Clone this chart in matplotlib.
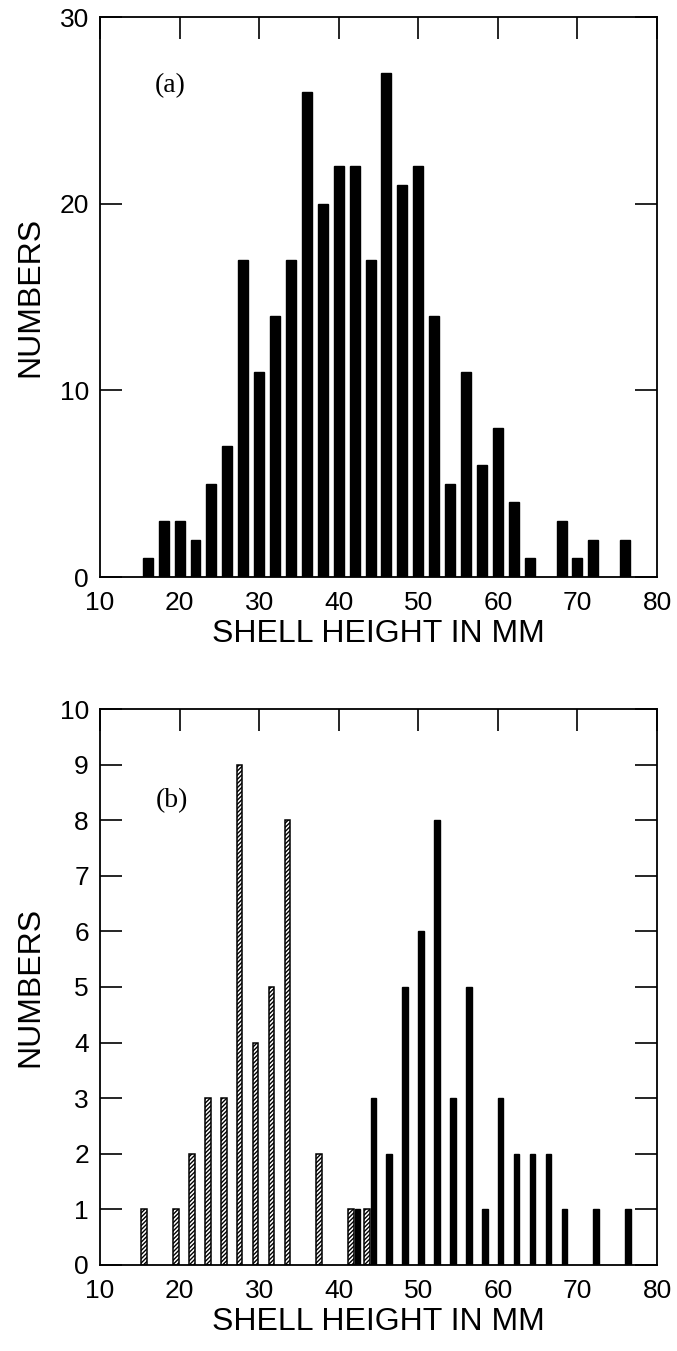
import matplotlib
matplotlib.use("Agg")
import matplotlib.pyplot as plt

# ---- data ----
heights_a = [16, 18, 20, 22, 24, 26, 28, 30, 32, 34, 36, 38, 40, 42, 44, 46,
             48, 50, 52, 54, 56, 58, 60, 62, 64, 68, 70, 72, 76]
counts_a = [1, 3, 3, 2, 5, 7, 17, 11, 14, 17, 26, 20, 22, 22, 17, 27,
            21, 22, 14, 5, 11, 6, 8, 4, 1, 3, 1, 2, 2]

heights_b_hatched = [16, 20, 22, 24, 26, 28, 30, 32, 34, 38, 42, 44]
counts_b_hatched = [1, 1, 2, 3, 3, 9, 4, 5, 8, 2, 1, 1]

heights_b_black = [42, 44, 46, 48, 50, 52, 54, 56, 58, 60, 62, 64, 66, 68, 72, 76]
counts_b_black = [1, 3, 2, 5, 6, 8, 3, 5, 1, 3, 2, 2, 2, 1, 1, 1]

xticks = [10, 20, 30, 40, 50, 60, 70, 80]
yticks_a = [0, 10, 20, 30]
yticks_b = list(range(0, 11))

plt.rcParams['font.family'] = ['Liberation Sans', 'DejaVu Sans']
plt.rcParams['hatch.linewidth'] = 1.0

fig = plt.figure(figsize=(6.77, 13.51), dpi=100)
ax_a = fig.add_axes([0.1477, 0.5729, 0.8228, 0.4145])
ax_b = fig.add_axes([0.1477, 0.0637, 0.8228, 0.4115])


def style(ax, yticks, ymax):
    ax.set_xlim(10, 80)
    ax.set_ylim(0, ymax)
    ax.set_xticks(xticks)
    ax.set_yticks(yticks)
    ax.tick_params(direction='in', length=16, width=1.2, top=True, right=True,
                   labelsize=19)
    ax.tick_params(axis='x', bottom=False, pad=10)
    ax.tick_params(axis='y', pad=8)
    for s in ax.spines.values():
        s.set_linewidth(1.3)
    ax.set_xlabel('SHELL HEIGHT IN MM', fontsize=23, labelpad=3)
    ax.set_ylabel('NUMBERS', fontsize=23, labelpad=10)


ax_a.bar(heights_a, counts_a, width=1.25, color='black', edgecolor='black')
style(ax_a, yticks_a, 30)
ax_a.text(18.8, 26.3, '(a)', fontsize=20, family='Liberation Serif',
          ha='center', va='center')

ax_b.bar([h - 0.45 for h in heights_b_hatched], counts_b_hatched, width=0.7,
         color='white', edgecolor='black', hatch='////////', linewidth=1.1)
ax_b.bar([h + 0.35 for h in heights_b_black], counts_b_black, width=0.7,
         color='black', edgecolor='black')
style(ax_b, yticks_b, 10)
ax_b.text(19.0, 8.35, '(b)', fontsize=20, family='Liberation Serif',
          ha='center', va='center')

fig.savefig('out.png', dpi=100)
